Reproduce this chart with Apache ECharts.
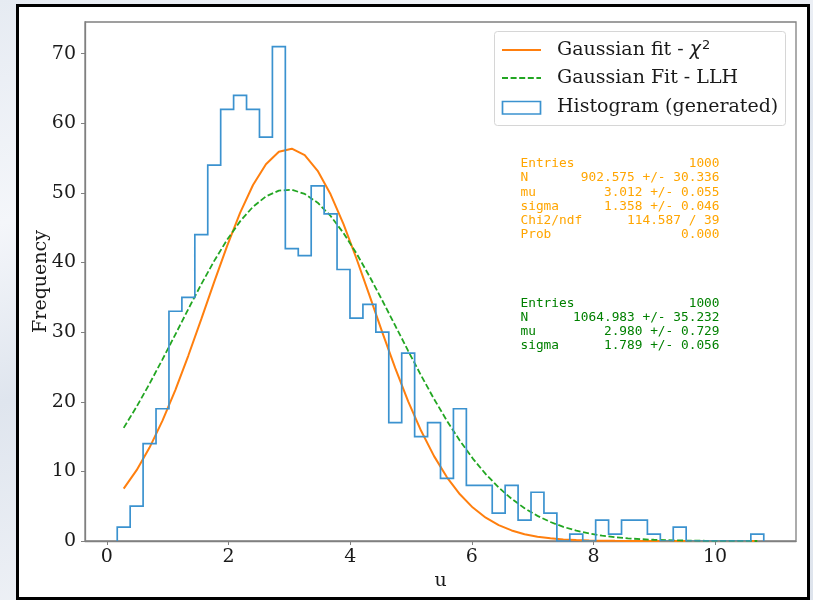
<!DOCTYPE html>
<html>
<head>
<meta charset="utf-8">
<title>Gaussian fits of generated histogram</title>
<script src="https://cdn.jsdelivr.net/npm/echarts@6/dist/echarts.min.js"></script>
<style>
  html, body { margin: 0; padding: 0; }
  body {
    width: 813px; height: 600px; overflow: hidden;
    background: linear-gradient(160deg, #e6ebf2 0%, #f4f6fa 25%, #dfe5ee 45%, #eef1f6 70%, #dde3ec 100%);
  }
  #chart { width: 813px; height: 600px; }
</style>
</head>
<body>
<div id="chart"></div>
<script>
// Histogram: 50 equal bins starting at binStart
const binStart = 0.17;
const binWidth = 0.2126;
const counts = [2, 5, 14, 19, 33, 35, 44, 54, 62, 64,
                62, 58, 71, 42, 41, 51, 47, 39, 32, 34,
                30, 17, 27, 15, 17, 9, 19, 8, 8, 4,
                8, 3, 7, 4, 0, 1, 0, 3, 1, 3,
                3, 1, 0, 2, 0, 0, 0, 0, 0, 1];

// Fitted curves evaluated at the bin centres
const chi2Fit = [7.52, 10.17, 13.42, 17.29, 21.72, 26.64, 31.87, 37.22, 42.40, 47.14,
                 51.13, 54.13, 55.91, 56.35, 55.42, 53.18, 49.80, 45.51, 40.58, 35.31,
                 29.97, 24.83, 20.07, 15.83, 12.19, 9.15, 6.71, 4.80, 3.35, 2.28,
                 1.52, 0.98, 0.62, 0.38, 0.23, 0.14, 0.08, 0.04, 0.02, 0.01,
                 0.007, 0.003, 0.002, 0.001, 0, 0, 0, 0, 0, 0];
const llhFit = [16.25, 19.30, 22.60, 26.09, 29.69, 33.33, 36.88, 40.24, 43.28, 45.91,
                48.01, 49.50, 50.33, 50.45, 49.86, 48.59, 46.69, 44.23, 41.31, 38.05,
                34.55, 30.93, 27.31, 23.77, 20.40, 17.26, 14.40, 11.84, 9.61, 7.68,
                6.06, 4.71, 3.61, 2.73, 2.03, 1.49, 1.08, 0.77, 0.54, 0.38,
                0.26, 0.18, 0.12, 0.08, 0.05, 0.03, 0.02, 0.01, 0.01, 0];

// Axis ticks
const xTicks = [0, 2, 4, 6, 8, 10];
const yTicks = [0, 10, 20, 30, 40, 50, 60, 70];
const xRange = [-0.36, 11.33];
const yRange = [0, 74.55];

// Fit summaries
const chi2Stats = [
  ['Entries', '1000'],
  ['N', '902.575 +/- 30.336'],
  ['mu', '3.012 +/- 0.055'],
  ['sigma', '1.358 +/- 0.046'],
  ['Chi2/ndf', '114.587 / 39'],
  ['Prob', '0.000']
];
const llhStats = [
  ['Entries', '1000'],
  ['N', '1064.983 +/- 35.232'],
  ['mu', '2.980 +/- 0.729'],
  ['sigma', '1.789 +/- 0.056']
];

const BLUE = '#3b92cf';
const ORANGE = '#ff7f0e';
const GREEN = '#22a622';
const SERIF = '"DejaVu Serif", serif';
const MONO = '"DejaVu Sans Mono", monospace';

// Step outline of the histogram
const edges = counts.map((_, i) => binStart + i * binWidth).concat([binStart + counts.length * binWidth]);
const stepPts = [[edges[0], 0]];
counts.forEach((c, i) => { stepPts.push([edges[i], c]); stepPts.push([edges[i + 1], c]); });
stepPts.push([edges[counts.length], 0]);

const centers = counts.map((_, i) => binStart + (i + 0.5) * binWidth);
const chi2Pts = centers.map((x, i) => [x, chi2Fit[i]]);
const llhPts = centers.map((x, i) => [x, llhFit[i]]);

function textEl(x, y, text, font, fill, align) {
  return {
    type: 'text', z: 20,
    style: { x, y, text, font, fill, align, verticalAlign: 'middle', textAlign: align, textVerticalAlign: 'middle' }
  };
}

const graphics = [
  // figure frame
  { type: 'rect', z: -10, shape: { x: 17.5, y: 5.5, width: 791, height: 593 },
    style: { fill: '#ffffff', stroke: '#000000', lineWidth: 3 } },
  // legend box
  { type: 'rect', z: 15, shape: { x: 494.5, y: 31.5, width: 291, height: 94, r: 3 },
    style: { fill: 'rgba(255,255,255,0.85)', stroke: '#d6d6d6', lineWidth: 1 } },
  { type: 'line', z: 16, shape: { x1: 502, y1: 50, x2: 541, y2: 50 },
    style: { stroke: ORANGE, lineWidth: 2 } },
  { type: 'line', z: 16, shape: { x1: 502, y1: 78, x2: 541, y2: 78 },
    style: { stroke: GREEN, lineWidth: 1.8, lineDash: [6, 2.6] } },
  { type: 'rect', z: 16, shape: { x: 502.5, y: 101.5, width: 38, height: 12.5 },
    style: { fill: 'none', stroke: BLUE, lineWidth: 1.7 } },
  {
    type: 'text', z: 20,
    style: {
      x: 557, y: 50, text: 'Gaussian fit - {chi|χ}{sup|2}',
      font: '19px ' + SERIF, fill: '#1a1a1a',
      verticalAlign: 'middle', textVerticalAlign: 'middle',
      rich: {
        chi: { fontFamily: 'DejaVu Sans', fontStyle: 'italic', fontSize: 19, fill: '#1a1a1a', lineHeight: 22 },
        sup: { fontFamily: 'DejaVu Sans', fontSize: 13, fill: '#1a1a1a', verticalAlign: 'top', lineHeight: 13, padding: [0, 0, 0, 1] }
      }
    }
  },
  textEl(557, 78, 'Gaussian Fit - LLH', '19px ' + SERIF, '#1a1a1a', 'left'),
  textEl(557, 107, 'Histogram (generated)', '19px ' + SERIF, '#1a1a1a', 'left')
];

chi2Stats.forEach((row, i) => {
  graphics.push(textEl(520.5, 164 + i * 14.1, row[0], '12.8px ' + MONO, '#ffa500', 'left'));
  graphics.push(textEl(719.5, 164 + i * 14.1, row[1], '12.8px ' + MONO, '#ffa500', 'right'));
});
llhStats.forEach((row, i) => {
  graphics.push(textEl(520.5, 303.5 + i * 14.1, row[0], '12.8px ' + MONO, '#008000', 'left'));
  graphics.push(textEl(719.5, 303.5 + i * 14.1, row[1], '12.8px ' + MONO, '#008000', 'right'));
});

const axisCommon = {
  type: 'value',
  nameLocation: 'middle',
  nameMoveOverlap: false,
  nameTextStyle: { fontFamily: SERIF, fontSize: 19, color: '#1a1a1a' },
  axisLine: { show: true, onZero: false, lineStyle: { color: '#808080', width: 1.3 } },
  axisTick: { show: true, inside: false, length: 4, lineStyle: { color: '#808080', width: 1 } },
  splitLine: { show: false }
};

const chart = echarts.init(document.getElementById('chart'), null, { renderer: 'canvas' });
chart.setOption({
  animation: false,
  backgroundColor: 'transparent',
  grid: { left: 85, right: 17, top: 22, bottom: 59, show: true, backgroundColor: '#ffffff',
          borderColor: '#808080', borderWidth: 1.3 },
  xAxis: Object.assign({}, axisCommon, {
    name: 'u', nameGap: 31,
    min: xRange[0], max: xRange[1],
    axisTick: Object.assign({}, axisCommon.axisTick, { customValues: xTicks }),
    axisLabel: { customValues: xTicks, margin: 7, fontFamily: SERIF, fontSize: 19, color: '#1a1a1a' }
  }),
  yAxis: Object.assign({}, axisCommon, {
    name: 'Frequency', nameGap: 34,
    min: yRange[0], max: yRange[1],
    axisTick: Object.assign({}, axisCommon.axisTick, { customValues: yTicks }),
    axisLabel: { customValues: yTicks, margin: 9, fontFamily: SERIF, fontSize: 19, color: '#1a1a1a' }
  }),
  graphic: graphics,
  series: [
    { name: 'Gaussian fit - χ²', type: 'line', data: chi2Pts, showSymbol: false, symbol: 'none',
      lineStyle: { color: ORANGE, width: 2 }, z: 3 },
    { name: 'Gaussian Fit - LLH', type: 'line', data: llhPts, showSymbol: false, symbol: 'none',
      lineStyle: { color: GREEN, width: 1.8, type: [6, 2.6] }, z: 3 },
    { name: 'Histogram (generated)', type: 'line', data: stepPts, showSymbol: false, symbol: 'none',
      lineStyle: { color: BLUE, width: 1.7, join: 'miter' }, z: 4 }
  ]
});
</script>
</body>
</html>
